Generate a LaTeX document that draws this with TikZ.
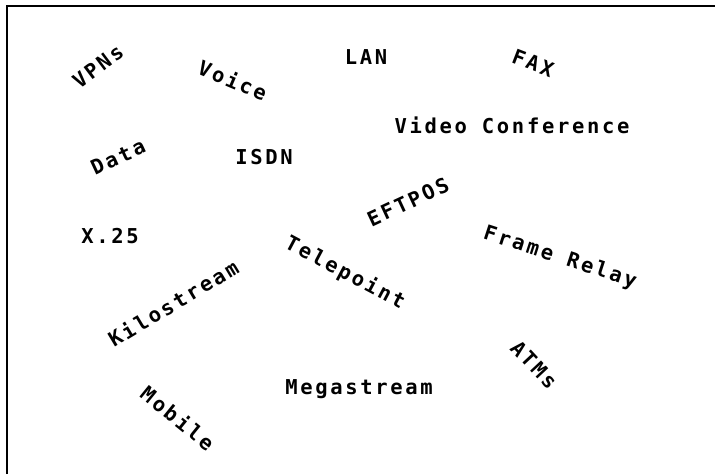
\documentclass[tikz,border=0pt]{standalone}
\usepackage{fontspec}
\newfontfamily\wordfont[LetterSpace=13]{DejaVu Sans Mono Bold}

\begin{document}
\begin{tikzpicture}[x=1pt,y=-1pt,
  word/.style={font=\wordfont\fontsize{20.5}{24}\selectfont, inner sep=0pt}]

\def \w{715}
\def \h{474}

\useasboundingbox (0,0) rectangle (\w,\h);

% frame, only top and left edges are seen
\coordinate (corner) at (7,6);
\coordinate (bottom) at (7,\h);
\coordinate (right) at (\w,6);
\draw [line width=2pt] (bottom) -- (corner) -- (right);

% top row
\node [word, rotate=37] (vpns) at (98,66) {VPNs};
\node [word, rotate=-23] (voice) at (233,80) {Voice};
\node [word] (lan) at (366,57) {LAN};
\node [word, rotate=-21] (fax) at (533,63) {FAX};
\node [word] (video) at (512,125) {Video Conference};

% middle
\node [word, rotate=25] (data) at (118,157) {Data};
\node [word] (isdn) at (264,157) {ISDN};
\node [word, rotate=25] (eftpos) at (408,202) {EFTPOS};
\node [word] (x25) at (110,236) {X.25};
\node [word, rotate=31] (kilo) at (173,303) {Kilostream};
\node [word, rotate=-28] (telepoint) at (345,273) {Telepoint};
\node [word, rotate=-18] (frame) at (560,258) {Frame Relay};

% bottom row
\node [word, rotate=-47] (atms) at (534,365) {ATMs};
\node [word] (mega) at (359,389) {Megastream};
\node [word, rotate=-39] (mobile) at (178,418) {Mobile};
\end{tikzpicture}
\end{document}
